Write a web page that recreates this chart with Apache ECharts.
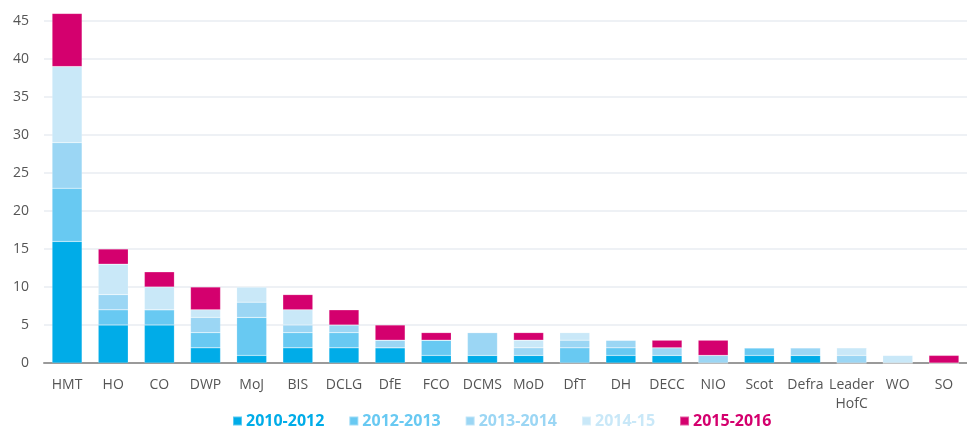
<!DOCTYPE html>
<html>
<head>
<meta charset="utf-8">
<script src="https://cdn.jsdelivr.net/npm/echarts@6/dist/echarts.min.js"></script>
<style>
  html, body { margin: 0; padding: 0; background: #fff; }
  #chart { width: 967px; height: 430px; }
</style>
</head>
<body>
<div id="chart"></div>
<script>
var departments = ['HMT', 'HO', 'CO', 'DWP', 'MoJ', 'BIS', 'DCLG', 'DfE', 'FCO', 'DCMS',
    'MoD', 'DfT', 'DH', 'DECC', 'NIO', 'Scot', 'Defra', 'Leader\nHofC', 'WO', 'SO'];

var periods = ['2010-2012', '2012-2013', '2013-2014', '2014-15', '2015-2016'];
var colours = ['#00ace8', '#68c9f2', '#9bd6f4', '#c9e8f8', '#d4006e'];

var v2010 = [16, 5, 5, 2, 1, 2, 2, 2, 1, 1, 1, 0, 1, 1, 0, 1, 1, 0, 0, 0];
var v2012 = [7, 2, 2, 2, 5, 2, 2, 0, 2, 0, 0, 2, 1, 0, 0, 1, 0, 0, 0, 0];
var v2013 = [6, 2, 0, 2, 2, 1, 1, 1, 0, 3, 1, 1, 1, 1, 1, 0, 1, 1, 0, 0];
var v2014 = [10, 4, 3, 1, 2, 2, 0, 0, 0, 0, 1, 1, 0, 0, 0, 0, 0, 1, 1, 0];
var v2015 = [7, 2, 2, 3, 0, 2, 2, 2, 1, 0, 1, 0, 0, 1, 2, 0, 0, 0, 0, 1];

var values = [v2010, v2012, v2013, v2014, v2015];

var series = periods.map(function (name, i) {
    return {
        name: name,
        type: 'bar',
        stack: 'total',
        barWidth: 30,
        clip: false,
        data: values[i],
        itemStyle: {
            color: colours[i],
            borderColor: 'rgba(255,255,255,0.35)',
            borderWidth: 0.5
        }
    };
});

var option = {
    animation: false,
    textStyle: { fontFamily: 'Open Sans' },
    grid: {
        left: 44,
        width: 930,
        top: 21,
        bottom: 67,
        containLabel: false
    },
    legend: {
        left: 232,
        top: 413,
        padding: 0,
        icon: 'rect',
        itemWidth: 9,
        itemHeight: 9,
        itemGap: 24,
        data: periods.map(function (name, i) {
            return {
                name: name,
                textStyle: {
                    color: colours[i],
                    fontWeight: 'bold',
                    fontSize: 16,
                    fontFamily: 'Open Sans',
                    padding: [0, 0, 0, -1]
                }
            };
        })
    },
    xAxis: {
        type: 'category',
        data: departments,
        axisTick: { show: false },
        axisLine: { lineStyle: { color: '#9a9a9a', width: 2 } },
        axisLabel: {
            color: '#555',
            fontSize: 14,
            margin: 13,
            lineHeight: 19,
            interval: 0
        }
    },
    yAxis: {
        type: 'value',
        min: 0,
        max: 45,
        interval: 5,
        axisLine: { show: false },
        axisTick: { show: false },
        axisLabel: { color: '#555', fontSize: 14, margin: 15 },
        splitLine: { lineStyle: { color: '#eef1f5', width: 2 } }
    },
    series: series
};

var myChart = echarts.init(document.getElementById('chart'));
myChart.setOption(option);
</script>
</body>
</html>
